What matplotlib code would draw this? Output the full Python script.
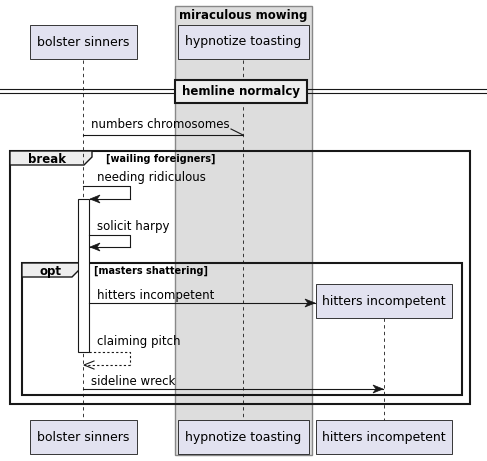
import matplotlib.pyplot as plt
from matplotlib.patches import Rectangle, Polygon

participants = ['bolster sinners', 'hypnotize toasting', 'hitters incompetent']
lifeline_x = [83, 243, 384]
group_title = 'miraculous mowing'
divider_text = 'hemline normalcy'
messages = ['numbers chromosomes', 'needing ridiculous', 'solicit harpy',
            'hitters incompetent', 'claiming pitch', 'sideline wreck']
frames = [('break', '[wailing foreigners]'), ('opt', '[masters shattering]')]

W, H = 487, 461
fig = plt.figure(figsize=(W / 100, H / 100), dpi=100)
ax = fig.add_axes([0, 0, 1, 1])
ax.set_xlim(0, W)
ax.set_ylim(H, 0)
ax.axis('off')
FS = 8.5
BOXC = '#E2E2F0'
EDGE = '#181818'

# group box
ax.add_patch(Rectangle((175, 6), 137, 449, fc='#DDDDDD', ec='#888888', lw=1))
ax.text(243, 15, group_title, ha='center', va='center', fontsize=FS, fontweight='bold')

def pbox(x0, x1, y0, label):
    ax.add_patch(Rectangle((x0, y0), x1 - x0, 34, fc=BOXC, ec=EDGE, lw=0.6, zorder=3))
    ax.text((x0 + x1) / 2, y0 + 17, label, ha='center', va='center', fontsize=FS + 0.5, zorder=4)

# lifelines
ax.plot([lifeline_x[0]] * 2, [60, 420], ls=(0, (4, 4)), color=EDGE, lw=0.6)
ax.plot([lifeline_x[1]] * 2, [60, 420], ls=(0, (4, 4)), color=EDGE, lw=0.6)
ax.plot([lifeline_x[2]] * 2, [318, 420], ls=(0, (4, 4)), color=EDGE, lw=0.6)

pbox(30, 137, 25, participants[0])
pbox(178, 309, 25, participants[1])
pbox(30, 137, 420, participants[0])
pbox(178, 309, 420, participants[1])
pbox(316, 452, 420, participants[2])
pbox(316, 452, 284, participants[2])

# divider
for y in (89, 93):
    ax.plot([0, W], [y, y], color=EDGE, lw=0.8)
ax.add_patch(Rectangle((175, 80), 132, 23, fc='#EEEEEE', ec=EDGE, lw=1.5, zorder=3))
ax.text(241, 91.5, divider_text, ha='center', va='center', fontsize=FS, fontweight='bold', zorder=4)

def arrow(x0, x1, y, dashed=False, head='full'):
    ax.plot([x0, x1], [y, y], color=EDGE, lw=0.8, ls=(0, (2, 2)) if dashed else '-')
    d = 1 if x1 > x0 else -1
    if head == 'full':
        ax.add_patch(Polygon([(x1, y), (x1 - d * 10, y - 4), (x1 - d * 7, y), (x1 - d * 10, y + 4)],
                             closed=True, fc=EDGE, ec=EDGE, lw=0.5))
    elif head == 'half':
        ax.plot([x1, x1 - d * 10], [y, y - 5], color=EDGE, lw=0.8)
    else:
        ax.plot([x1 - d * 10, x1, x1 - d * 10], [y - 4, y, y + 4], color=EDGE, lw=0.8)

# numbers chromosomes
ax.text(91, 124, messages[0], va='center', fontsize=FS)
ax.plot([83, 243], [135, 135], color=EDGE, lw=0.8)
ax.plot([243, 231], [135, 129], color=EDGE, lw=0.8)

# frames
def frame(x0, x1, y0, y1, name, cond, tabw):
    ax.add_patch(Rectangle((x0, y0), x1 - x0, y1 - y0, fc='none', ec=EDGE, lw=1.5))
    ax.add_patch(Polygon([(x0, y0), (x0 + tabw, y0), (x0 + tabw, y0 + 6), (x0 + tabw - 8, y0 + 14),
                          (x0, y0 + 14)], closed=True, fc='#EEEEEE', ec=EDGE, lw=1))
    ax.text(x0 + 18, y0 + 8, name, va='center', fontsize=FS, fontweight='bold')
    ax.text(x0 + tabw + 14, y0 + 8, cond, va='center', fontsize=FS - 1.5, fontweight='bold')

frame(10, 470, 151, 404, frames[0][0], frames[0][1], 82)
frame(22, 462, 263, 395, frames[1][0], frames[1][1], 58)

# activation
ax.add_patch(Rectangle((78, 199), 11, 153, fc='white', ec=EDGE, lw=0.8, zorder=2))

# needing ridiculous
ax.text(97, 177, messages[1], va='center', fontsize=FS)
ax.plot([83, 130, 130], [186, 186, 199], color=EDGE, lw=0.8)
arrow(130, 90, 199)

# solicit harpy
ax.text(97, 226, messages[2], va='center', fontsize=FS)
ax.plot([89, 130, 130], [235, 235, 247], color=EDGE, lw=0.8)
arrow(130, 90, 247)

# hitters incompetent
ax.text(97, 295, messages[3], va='center', fontsize=FS)
arrow(89, 315, 303)

# claiming pitch
ax.text(97, 341, messages[4], va='center', fontsize=FS)
ax.plot([89, 130, 130], [352, 352, 365], color=EDGE, lw=0.8, ls=(0, (2, 2)))
arrow(130, 84, 365, dashed=True, head='open')

# sideline wreck
ax.text(91, 381, messages[5], va='center', fontsize=FS)
arrow(83, 383, 389)

fig.savefig('out.png', dpi=100)
